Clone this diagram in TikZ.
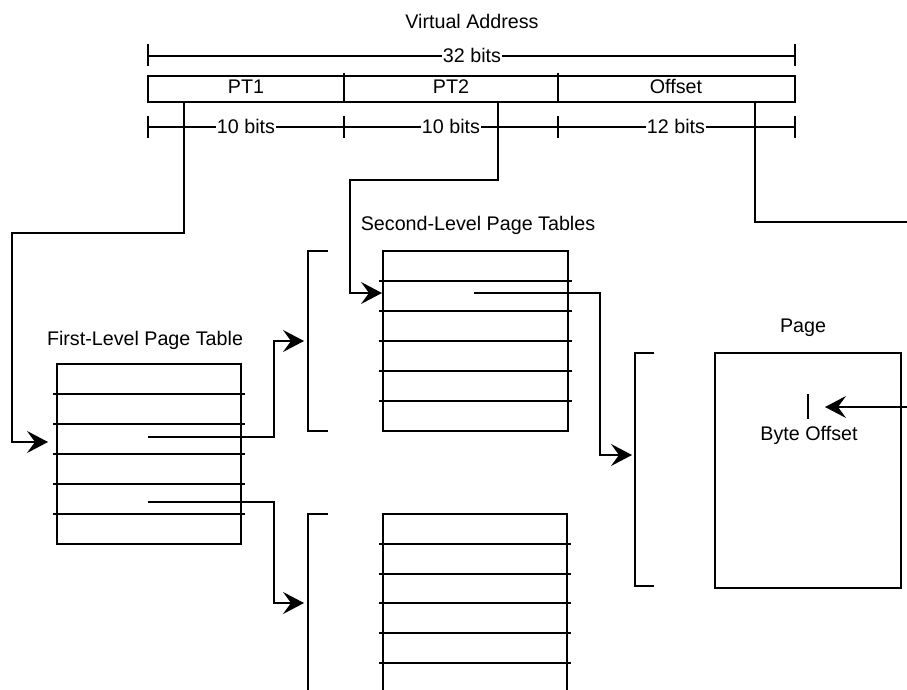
\documentclass[tikz,border=0pt]{standalone}
\usepackage{fontspec}
\setmainfont{Liberation Sans}
\usetikzlibrary{arrows.meta}
\begin{document}
\begin{tikzpicture}[x=1pt,y=-1pt, line width=1.2pt,
  lbl/.style={font=\fontsize{19.7}{22}\selectfont, inner sep=1pt, anchor=base},
  dimlbl/.style={lbl, fill=white},
  box/.style={draw, inner sep=0pt, outer sep=0pt, anchor=north west},
  ptr/.style={-{Stealth[length=21pt,width=22pt,inset=8pt]}},
]
\useasboundingbox (0,0) rectangle (907,690);

% --- virtual address ---
\node[lbl] (vatitle) at (472,29) {Virtual Address};
\draw (148,44) -- (148,66);
\draw (795,44) -- (795,66);
\draw (148,56) -- (795,56);
\node[dimlbl] (bits32) at (472,63) {32 bits};

\node[box, minimum width=647pt, minimum height=26pt] (va) at (148,76) {};
\draw (344,73) -- (344,102);
\draw (558,73) -- (558,102);
\node[lbl] (pt1lbl) at (246,94) {PT1};
\node[lbl] (pt2lbl) at (451,94) {PT2};
\node[lbl] (offlbl) at (676,94) {Offset};

\draw (148,127) -- (795,127);
\foreach \x in {148,344,558,795} \draw (\x,116) -- (\x,138);
\node[dimlbl] (bits10a) at (246,134) {10 bits};
\node[dimlbl] (bits10b) at (451,134) {10 bits};
\node[dimlbl] (bits12) at (676,134) {12 bits};

% --- first-level page table ---
\node[lbl] (l1title) at (145,345) {First-Level Page Table};
\node[box, minimum width=184pt, minimum height=180pt] (L1) at (57,364) {};
\foreach \y in {394,424,454,484,514} \draw (53,\y) -- (245,\y);

% --- second-level page tables ---
\node[lbl] (l2title) at (478,230) {Second-Level Page Tables};
\draw (328,251) -- (308,251) -- (308,431) -- (328,431);
\node[box, minimum width=185pt, minimum height=180pt] (L2a) at (383,251) {};
\foreach \y in {281,311,341,371,401} \draw (379,\y) -- (572,\y);

\draw (328,514) -- (308,514) -- (308,690);
\draw (383,690) -- (383,514) -- (567,514) -- (567,690);
\foreach \y in {544,574,603,633,663} \draw (379,\y) -- (571,\y);

% --- page ---
\node[lbl] (pagetitle) at (803,332) {Page};
\draw (654,353) -- (635,353) -- (635,586) -- (654,586);
\node[box, minimum width=186pt, minimum height=235pt] (page) at (715,353) {};
\draw (808,394) -- (808,419);
\node[lbl] (byteoff) at (809,440) {Byte Offset};

% --- connector end points ---
\coordinate (pt1src) at (184,102);
\coordinate (pt2src) at (498,102);
\coordinate (offsrc) at (755,102);
\coordinate (l1in) at (48,442);
\coordinate (l2ain) at (382,293);
\coordinate (e1) at (148,437);
\coordinate (e2) at (148,502);
\coordinate (b2a) at (304,341);
\coordinate (b2b) at (304,603);
\coordinate (e3) at (474,293);
\coordinate (bpage) at (632,455);
\coordinate (edgeA) at (907,222);
\coordinate (edgeB) at (907,407);
\coordinate (bytein) at (825,407);

% --- connectors ---
\draw[ptr] (pt1src) |- (12,233) |- (l1in);
\draw[ptr] (pt2src) |- (350,180) |- (l2ain);
\draw (offsrc) |- (edgeA);
\draw[ptr] (edgeB) -- (bytein);
\draw[ptr] (e1) -| (274,341) -- (b2a);
\draw[ptr] (e2) -| (274,603) -- (b2b);
\draw[ptr] (e3) -| (600,455) -- (bpage);
\end{tikzpicture}
\end{document}
